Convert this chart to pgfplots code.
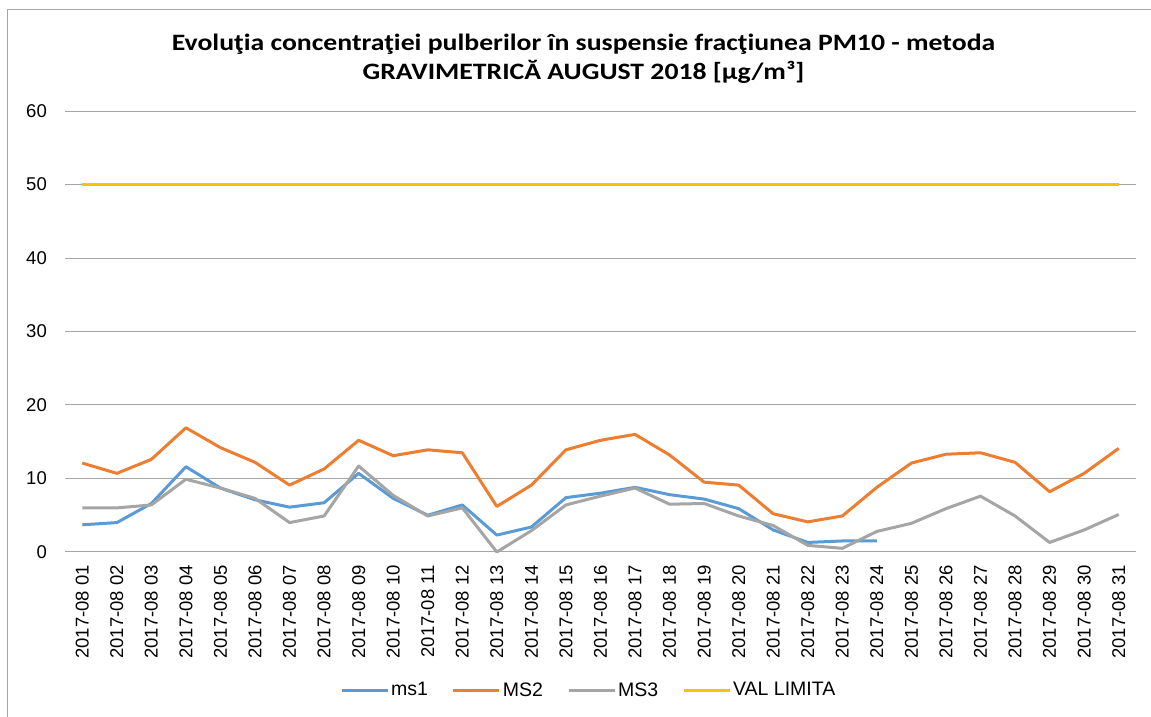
\documentclass[border=0pt]{standalone}
\usepackage{fontspec}
\setmainfont{Liberation Sans}
\newfontfamily\titlefont{Carlito}
\usepackage{pgfplots}
\pgfplotsset{compat=1.18}
\definecolor{cms1}{HTML}{5B9BD5}
\definecolor{cms2}{HTML}{ED7D31}
\definecolor{cms3}{HTML}{A5A5A5}
\definecolor{cval}{HTML}{FFC000}
\definecolor{cgrid}{HTML}{A6A6A6}
\begin{document}
\begin{tikzpicture}
\useasboundingbox (0,0) rectangle (1151pt,717pt);
\draw[cgrid, line width=1pt] (7pt,0pt) -- (7pt,707pt) -- (1151pt,707pt);
\node[anchor=base, inner sep=0pt] at (583.5pt,666pt) {\scalebox{1.18}[1]{\titlefont\bfseries\fontsize{23.5}{26}\selectfont Evoluţia concentraţiei pulberilor în suspensie fracţiunea PM10 - metoda}};
\node[anchor=base, inner sep=0pt] at (583.5pt,637pt) {\scalebox{1.18}[1]{\titlefont\bfseries\fontsize{23.5}{26}\selectfont GRAVIMETRICĂ AUGUST 2018 [µg/m³]}};
\begin{axis}[
  at={(65pt,165pt)}, anchor=south west,
  scale only axis, width=1071pt, height=441pt,
  xmin=0.5, xmax=31.5, ymin=0, ymax=60,
  ytick={0,10,...,60},
  xtick={1,...,31},
  xticklabels={2017-08 01,2017-08 02,2017-08 03,2017-08 04,2017-08 05,2017-08 06,2017-08 07,2017-08 08,2017-08 09,2017-08 10,2017-08 11,2017-08 12,2017-08 13,2017-08 14,2017-08 15,2017-08 16,2017-08 17,2017-08 18,2017-08 19,2017-08 20,2017-08 21,2017-08 22,2017-08 23,2017-08 24,2017-08 25,2017-08 26,2017-08 27,2017-08 28,2017-08 29,2017-08 30,2017-08 31},
  /pgf/number format/assume math mode=true,
  tick label style={font=\fontsize{18.5}{20}\selectfont},
  xticklabel style={rotate=90, anchor=east, inner sep=0pt},
  yticklabel style={anchor=east, inner sep=0pt},
  xticklabel shift=13pt,
  yticklabel shift=18pt,
  major tick length=0pt,
  axis line style={draw=none},
  ymajorgrids, grid style={cgrid, line width=1pt},
  clip=false,
  legend columns=4,
  legend style={at={(0.489,-0.313)}, anchor=center, draw=none, fill=none,
    font=\fontsize{19.5}{21}\selectfont,
    /tikz/every even column/.append style={column sep=22pt},
    /tikz/every odd column/.append style={column sep=0pt},
    cells={anchor=west}, inner sep=0pt},
  legend image code/.code={\draw[#1] (0pt,0pt) -- (46pt,0pt);},
  every axis plot/.append style={line width=3pt, line join=round, mark=none},
]
\addplot[cms1] coordinates {(1,3.7)(2,4.0)(3,6.6)(4,11.6)(5,8.7)(6,7.1)(7,6.1)(8,6.7)(9,10.7)(10,7.3)(11,5.0)(12,6.4)(13,2.3)(14,3.4)(15,7.4)(16,8.0)(17,8.8)(18,7.8)(19,7.2)(20,5.9)(21,3.0)(22,1.3)(23,1.5)(24,1.5)};
\addlegendentry{ms1}
\addplot[cms2] coordinates {(1,12.1)(2,10.7)(3,12.6)(4,16.9)(5,14.2)(6,12.2)(7,9.1)(8,11.3)(9,15.2)(10,13.1)(11,13.9)(12,13.5)(13,6.2)(14,9.1)(15,13.9)(16,15.2)(17,16.0)(18,13.2)(19,9.5)(20,9.1)(21,5.2)(22,4.1)(23,4.9)(24,8.8)(25,12.1)(26,13.3)(27,13.5)(28,12.2)(29,8.2)(30,10.7)(31,14.1)};
\addlegendentry{MS2}
\addplot[cms3] coordinates {(1,6.0)(2,6.0)(3,6.4)(4,9.9)(5,8.7)(6,7.3)(7,4.0)(8,4.9)(9,11.7)(10,7.7)(11,4.9)(12,6.0)(13,0.0)(14,2.9)(15,6.4)(16,7.6)(17,8.7)(18,6.5)(19,6.6)(20,4.9)(21,3.6)(22,0.9)(23,0.5)(24,2.8)(25,3.9)(26,5.9)(27,7.6)(28,4.9)(29,1.3)(30,3.0)(31,5.1)};
\addlegendentry{MS3}
\addplot[cval] coordinates {(1,50)(2,50)(3,50)(4,50)(5,50)(6,50)(7,50)(8,50)(9,50)(10,50)(11,50)(12,50)(13,50)(14,50)(15,50)(16,50)(17,50)(18,50)(19,50)(20,50)(21,50)(22,50)(23,50)(24,50)(25,50)(26,50)(27,50)(28,50)(29,50)(30,50)(31,50)};
\addlegendentry{VAL LIMITA}
\end{axis}
\end{tikzpicture}
\end{document}
